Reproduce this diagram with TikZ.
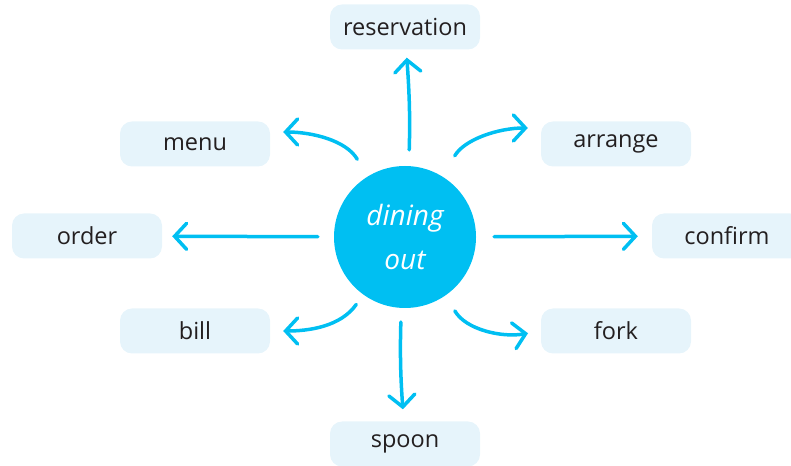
\documentclass[tikz,border=0pt]{standalone}
\usepackage{fontspec}
\setmainfont{Open Sans}
\usetikzlibrary{arrows.meta}
\definecolor{dinecyan}{HTML}{00BFF2}
\definecolor{boxblue}{HTML}{E6F4FB}
\definecolor{labelgray}{HTML}{231F20}

\begin{document}
\begin{tikzpicture}[x=1pt,y=1pt]
			\tikzstyle{word}=[rectangle,rounded corners=12pt,fill=boxblue,minimum width=150pt,minimum height=45pt,text=labelgray,font=\fontsize{23.5}{28}\selectfont]
			\tikzstyle{hub}=[circle,fill=dinecyan,minimum size=142pt,inner sep=0pt,text=white,align=center,font=\itshape\fontsize{28}{44}\selectfont]
			\tikzstyle{link}=[draw=dinecyan,line width=3.5pt,line cap=round,line join=round,-{Straight Barb[length=12pt,width=26pt,line cap=round]}]

			\useasboundingbox (0,0) rectangle (791,465);

			\node[hub] (dining) at (405,228) {dining\\out};

			\node[word] (res) at (405,438) {reservation};
			\node[word] (menu) at (195,321) {menu};
			\node[word] (arrange) at (616,321) {arrange};
			\node[word] (order) at (87,229) {order};
			\node[word] (confirm) at (727,229) {confirm};
			\node[word] (bill) at (195,134) {bill};
			\node[word] (fork) at (616,134) {fork};
			\node[word] (spoon) at (405,21) {spoon};

			\draw[link,shorten <=16pt,shorten >=8pt] (dining) to[bend right=3] (res);
			\draw[link,shorten <=14pt,shorten >=12pt] (dining) to[bend right=3] (spoon);
			\draw[link,shorten <=16pt,shorten >=10pt] (dining) -- (order);
			\draw[link,shorten <=18pt,shorten >=14pt] (dining) -- (confirm);

			\draw[link,shorten <=20pt,shorten >=13pt] (dining.122) to[out=120,in=0] ([yshift=12pt]menu.east);
			\draw[link,shorten <=24pt,shorten >=13pt] (dining.58) to[out=60,in=180] ([yshift=16pt]arrange.west);
			\draw[link,shorten <=12pt,shorten >=13pt] (dining.234) to[out=235,in=0] (bill.east);
			\draw[link,shorten <=18pt,shorten >=13pt] (dining.305) to[out=-60,in=190] (fork.west);
\end{tikzpicture}
\end{document}
